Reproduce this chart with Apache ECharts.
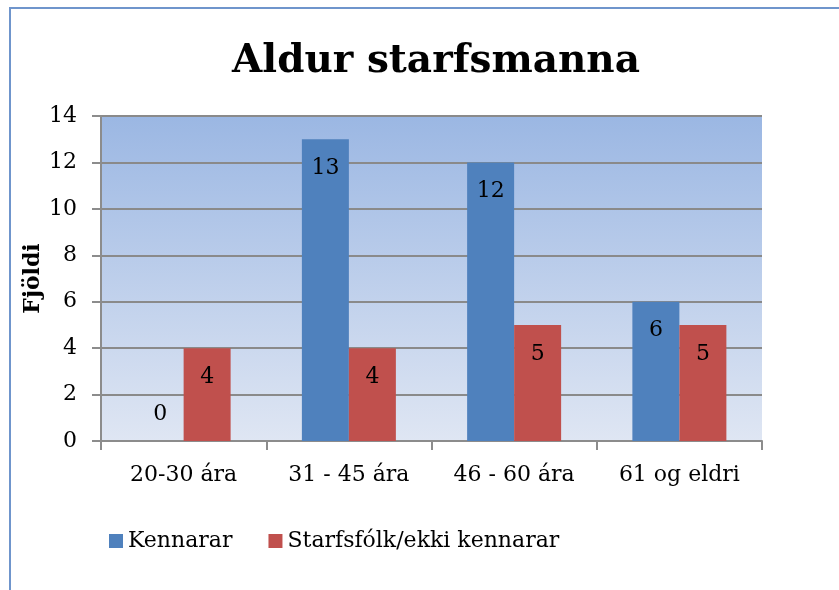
<!DOCTYPE html>
<html>
<head>
<meta charset="utf-8">
<script src="https://cdn.jsdelivr.net/npm/echarts@6/dist/echarts.min.js"></script>
<style>
  html, body { margin: 0; padding: 0; background: #fff; }
  #chartsDOM { width: 839px; height: 590px; }
</style>
</head>
<body>
<div id="chartsDOM"></div>
<script>
const categories = ['20-30 ára', '31 - 45 ára', '46 - 60 ára', '61 og eldri'];
const kennarar = [0, 13, 12, 6];
const starfsfolk = [4, 4, 5, 5];

const font = '"DejaVu Serif", "Liberation Serif", serif';

const chart = echarts.init(document.getElementById('chartsDOM'));

// Excel puts a zero value label just above the axis
function barData(values) {
  return values.map(v => v === 0
    ? { value: v, label: { position: 'top', distance: 16 } }
    : v);
}

const labelStyle = {
  show: true,
  position: 'insideTop',
  distance: 18,
  color: '#000',
  fontFamily: font,
  fontSize: 22
};

chart.setOption({
  animation: false,
  title: {
    text: 'Aldur starfsmanna',
    left: 431,
    top: 37,
    textAlign: 'center',
    textStyle: { fontFamily: font, fontWeight: 'bold', fontSize: 39, color: '#000' }
  },
  graphic: [{
    type: 'polyline',
    shape: { points: [[10, 600], [10, 8], [850, 8]] },
    style: { stroke: '#6f95cc', lineWidth: 2, fill: null }
  }],
  legend: {
    left: 104,
    top: 525,
    itemWidth: 14,
    itemHeight: 14,
    itemGap: 36,
    icon: 'rect',
    textStyle: { fontFamily: font, fontSize: 22, color: '#000' },
    data: ['Kennarar', 'Starfsfólk/ekki kennarar']
  },
  grid: {
    left: 101,
    top: 116,
    width: 661,
    height: 325,
    show: true,
    borderWidth: 0,
    backgroundColor: new echarts.graphic.LinearGradient(0, 0, 0, 1, [
      { offset: 0, color: '#9bb7e3' },
      { offset: 1, color: '#dfe6f3' }
    ])
  },
  xAxis: {
    type: 'category',
    data: categories,
    axisLine: { lineStyle: { color: '#8c8c8c', width: 2 } },
    axisTick: { show: true, length: 9, lineStyle: { color: '#8c8c8c', width: 2 } },
    axisLabel: { color: '#000', fontFamily: font, fontSize: 22, margin: 23 }
  },
  yAxis: {
    type: 'value',
    min: 0,
    max: 14,
    interval: 2,
    name: 'Fjöldi',
    nameLocation: 'middle',
    nameGap: 57,
    nameMoveOverlap: false,
    nameTextStyle: { fontFamily: font, fontWeight: 'bold', fontSize: 22, color: '#000' },
    axisLine: { show: true, lineStyle: { color: '#8c8c8c', width: 2 } },
    axisTick: { show: true, length: 9, lineStyle: { color: '#8c8c8c', width: 2 } },
    axisLabel: { color: '#000', fontFamily: font, fontSize: 22, margin: 24 },
    splitLine: { lineStyle: { color: '#8a8a8a', width: 2 } }
  },
  series: [
    {
      name: 'Kennarar',
      type: 'bar',
      data: barData(kennarar),
      barWidth: 47,
      barGap: '0%',
      itemStyle: { color: '#4f81bd' },
      label: labelStyle
    },
    {
      name: 'Starfsfólk/ekki kennarar',
      type: 'bar',
      data: barData(starfsfolk),
      barWidth: 47,
      barGap: '0%',
      itemStyle: { color: '#c0504d' },
      label: labelStyle
    }
  ]
});
</script>
</body>
</html>
